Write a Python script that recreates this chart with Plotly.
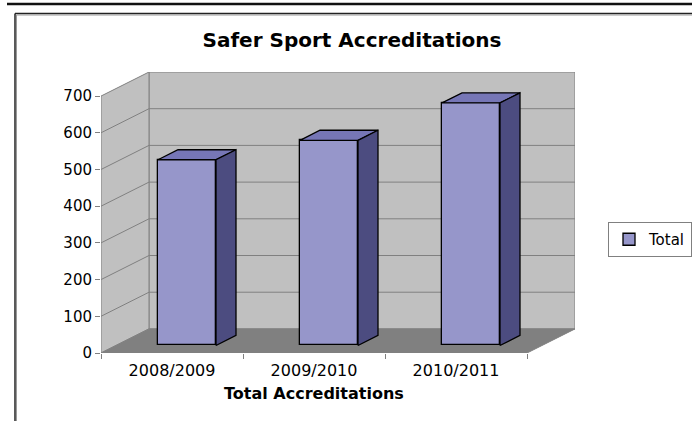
import plotly.graph_objects as go

# ---------------- data ----------------
categories = ["2008/2009", "2009/2010", "2010/2011"]
totals = [506, 559, 661]
series_name = "Total"
y_ticks = [0, 100, 200, 300, 400, 500, 600, 700]
chart_title = "Safer Sport Accreditations"
x_title = "Total Accreditations"

# ---------------- geometry (pixels) ----------------
W, H = 692, 421
L, R, T, B = 101, 575, 72, 353          # plot area in page pixels
FRONT_TOP = 97                          # pixel of y=700 on the front plane
CAT_PX = (527 - 101) / 3.0              # pixels per category
PPU = (B - FRONT_TOP) / 700.0           # pixels per value unit
BACK_DEPTH = 24                         # depth of the back wall (vertical px)
BAR_FRONT = 7.5                         # depth where bar fronts sit
BAR_DEPTH = 10                          # depth of each bar
BAR_W = 58 / CAT_PX                     # bar width in category units


def dx(t):
    return 2.0 * t / CAT_PX


def dy(t):
    return t / PPU


ymax = y_ticks[-1]
x0, x1 = -0.5, len(categories) - 0.5
xr = [x0, x1 + dx(BACK_DEPTH)]
yr = [0, ymax + dy(BACK_DEPTH)]

wall = "#C0C0C0"
floor = "#808080"
grid = "#808080"
front_c = "#9696CA"
top_c = "#7676B6"
side_c = "#4C4C80"

shapes = []
# back wall
bx0, bx1 = x0 + dx(BACK_DEPTH), x1 + dx(BACK_DEPTH)
by0, by1 = dy(BACK_DEPTH), ymax + dy(BACK_DEPTH)
shapes.append(dict(type="path", xref="x", yref="y", layer="below",
                   path=f"M{bx0},{by0} L{bx1},{by0} L{bx1},{by1} L{bx0},{by1} Z",
                   fillcolor=wall, line=dict(color=grid, width=1)))
# left wall
shapes.append(dict(type="path", xref="x", yref="y", layer="below",
                   path=f"M{x0},0 L{bx0},{by0} L{bx0},{by1} L{x0},{ymax} Z",
                   fillcolor=wall, line=dict(color=grid, width=1)))
# floor
shapes.append(dict(type="path", xref="x", yref="y", layer="below",
                   path=f"M{x0},0 L{x1},0 L{bx1},{by0} L{bx0},{by0} Z",
                   fillcolor=floor, line=dict(color=grid, width=1)))
# gridlines
for v in y_ticks[1:-1]:
    shapes.append(dict(type="line", xref="x", yref="y", layer="below",
                       x0=bx0, x1=bx1, y0=v + by0, y1=v + by0,
                       line=dict(color=grid, width=1)))
    shapes.append(dict(type="line", xref="x", yref="y", layer="below",
                       x0=x0, x1=bx0, y0=v, y1=v + by0,
                       line=dict(color=grid, width=1)))


# page decorations (paper coords from pixels)
def xp(px):
    return (px - L) / (R - L)


def yp(py):
    return (B - py) / (B - T)


shapes.append(dict(type="line", xref="paper", yref="paper", x0=xp(7), x1=xp(692),
                   y0=yp(4), y1=yp(4), line=dict(color="#111111", width=2.5)))
shapes.append(dict(type="line", xref="paper", yref="paper", x0=xp(15), x1=xp(700),
                   y0=yp(13.5), y1=yp(13.5), line=dict(color="#222222", width=1.5)))
shapes.append(dict(type="line", xref="paper", yref="paper", x0=xp(15), x1=xp(15),
                   y0=yp(13.5), y1=yp(430), line=dict(color="#222222", width=1.5)))
shapes.append(dict(type="line", xref="paper", yref="paper", x0=xp(16.5), x1=xp(700),
                   y0=yp(15), y1=yp(15), line=dict(color="#999999", width=1)))
shapes.append(dict(type="line", xref="paper", yref="paper", x0=xp(16.5), x1=xp(16.5),
                   y0=yp(15), y1=yp(430), line=dict(color="#999999", width=1)))

fig = go.Figure()

# front faces of bars
xs = [i + dx(BAR_FRONT) for i in range(len(categories))]
fig.add_trace(go.Bar(x=xs, y=totals, base=dy(BAR_FRONT), width=BAR_W, name=series_name,
                     marker=dict(color=front_c, line=dict(color="#000000", width=1.3)),
                     showlegend=True))

# top and side faces
tx, ty, sx, sy = [], [], [], []
ddx, ddy = dx(BAR_DEPTH), dy(BAR_DEPTH)
for xc, v in zip(xs, totals):
    a, b = xc - BAR_W / 2, xc + BAR_W / 2
    top = v + dy(BAR_FRONT)
    bot = dy(BAR_FRONT)
    tx += [a, b, b + ddx, a + ddx, a, None]
    ty += [top, top, top + ddy, top + ddy, top, None]
    sx += [b, b + ddx, b + ddx, b, b, None]
    sy += [bot, bot + ddy, top + ddy, top, bot, None]
fig.add_trace(go.Scatter(x=tx, y=ty, mode="lines", fill="toself", fillcolor=top_c,
                         line=dict(color="#000000", width=1.3), showlegend=False,
                         hoverinfo="skip"))
fig.add_trace(go.Scatter(x=sx, y=sy, mode="lines", fill="toself", fillcolor=side_c,
                         line=dict(color="#000000", width=1.3), showlegend=False,
                         hoverinfo="skip"))

font_fam = "DejaVu Sans"
fig.update_layout(
    width=W, height=H, autosize=False,
    margin=dict(l=L, r=W - R, t=T, b=H - B, pad=0, autoexpand=False),
    paper_bgcolor="white", plot_bgcolor="rgba(0,0,0,0)",
    font=dict(family=font_fam, color="#000000"),
    shapes=shapes,
    title=dict(text=f"<b>{chart_title}</b>", x=352 / W, xanchor="center",
               y=1 - 40 / H, yanchor="middle", font=dict(size=20, family=font_fam)),
    xaxis=dict(range=xr, showgrid=False, zeroline=False, showline=False,
               tickvals=list(range(len(categories))), ticktext=categories,
               ticks="", tickfont=dict(size=16), ticklabelstandoff=6,
               minor=dict(tickmode="array", tickvals=[x0 + i for i in range(len(categories) + 1)],
                          ticks="outside", ticklen=5, tickcolor=grid, showgrid=False)),
    yaxis=dict(range=yr, showgrid=False, zeroline=False, showline=False,
               tickvals=y_ticks, ticks="outside", ticklen=5, tickcolor=grid,
               tickfont=dict(size=15)),
    legend=dict(x=xp(608), y=yp(239.5), xanchor="left", yanchor="middle",
                bordercolor="#808080", borderwidth=1, bgcolor="white",
                font=dict(size=15), itemwidth=30, tracegroupgap=0),
    annotations=[dict(text=f"<b>{x_title}</b>", xref="paper", yref="paper",
                      x=xp(314), y=yp(393), xanchor="center", yanchor="middle",
                      showarrow=False, font=dict(size=16, family=font_fam))],
    bargap=0,
)

fig.write_html("out.html", config={"displayModeBar": False},
               post_script="document.body.style.margin='0';document.body.style.overflow='hidden';")
